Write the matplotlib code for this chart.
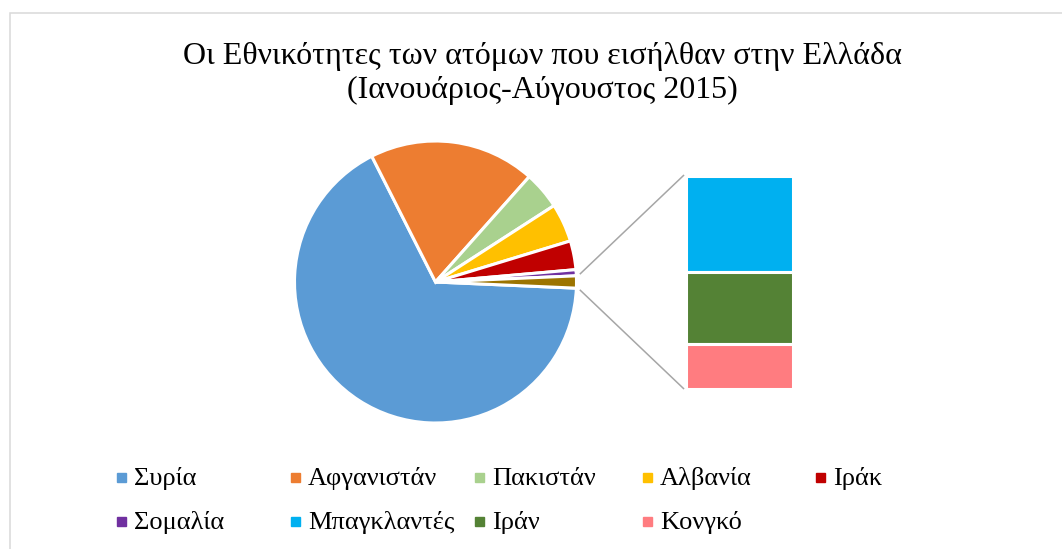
import matplotlib.pyplot as plt
import numpy as np
from matplotlib.patches import Rectangle

# data (percent of arrivals)
main_labels = ['Συρία', 'Αφγανιστάν', 'Πακιστάν', 'Αλβανία', 'Ιράκ', 'Σομαλία']
main_values = [66.7, 19.0, 4.3, 4.4, 3.3, 0.7]
main_colors = ['#5B9BD5', '#ED7D31', '#A9D18E', '#FFC000', '#C00000', '#7030A0']
other_color = '#9C7400'

sub_labels = ['Μπαγκλαντές', 'Ιράν', 'Κονγκό']
sub_values = [0.63, 0.47, 0.29]
sub_colors = ['#00B0F0', '#548235', '#FF7C80']

title = 'Οι Εθνικότητες των ατόμων που εισήλθαν στην Ελλάδα\n(Ιανουάριος-Αύγουστος 2015)'

W, H = 1062, 549
plt.rcParams['font.family'] = ['Liberation Serif', 'DejaVu Serif']

fig = plt.figure(figsize=(W / 100, H / 100), dpi=100)
ax = fig.add_axes([0, 0, 1, 1])

# main pie
other_total = sum(sub_values)
pie_vals = main_values + [other_total]
pie_cols = main_colors + [other_color]
total = sum(pie_vals)
start = -other_total / total * 180
cx, cy, r = 435.5, H - 282, 141
ax.pie(pie_vals, colors=pie_cols, startangle=start, counterclock=False,
       center=(cx, cy), radius=r, frame=True,
       wedgeprops=dict(edgecolor='white', linewidth=2.2))

# secondary stacked bar
bx0, bx1 = 685.5, 792.5
top, bottom = H - 175.5, H - 388.5
scale = (top - bottom) / other_total
y = top
for v, c in zip(sub_values, sub_colors):
    h = v * scale
    ax.bar((bx0 + bx1) / 2, h, width=bx1 - bx0, bottom=y - h, color=c,
           edgecolor='white', linewidth=2.2)
    y -= h

# connector lines
half = other_total / total * 180
for sgn, ty in [(1, top), (-1, bottom)]:
    a = np.deg2rad(sgn * half)
    x0 = cx + (r + 4) * np.cos(a)
    y0 = cy + (r + 4) * np.sin(a) + sgn * 2
    ax.plot([x0, bx0 - 2], [y0, ty], color='#A6A6A6', linewidth=1.1)

ax.set_xlim(0, W)
ax.set_ylim(0, H)
ax.axis('off')

# chart border
ax.add_patch(Rectangle((9.7, -20), W + 40, H - 12.7 + 20, fill=False,
                       edgecolor='#D9D9D9', linewidth=1.1))

ax.text(542, H - 73.5, title, ha='center', va='center', fontsize=23,
        linespacing=1.2, color='black')

# legend
leg_labels = main_labels + sub_labels
leg_colors = main_colors + sub_colors
col_x = [117, 291, 475, 643, 816]
row_y = [485, 529]
for i, (lab, col) in enumerate(zip(leg_labels, leg_colors)):
    x = col_x[i % 5]
    yb = row_y[i // 5]
    ax.add_patch(Rectangle((x, H - yb + 3.5), 9, 9, color=col))
    ax.text(x + 17, H - yb, lab, ha='left', va='baseline', fontsize=19)

fig.savefig('out.png', dpi=100)
